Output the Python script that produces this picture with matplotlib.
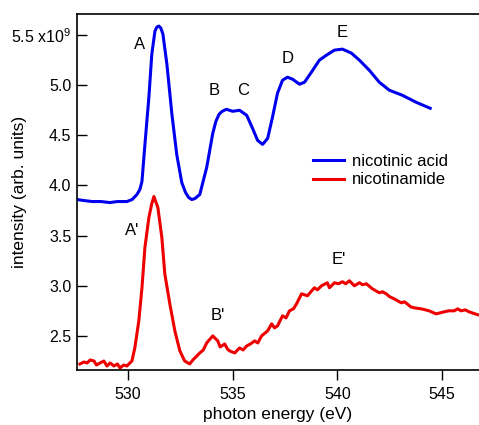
import matplotlib
matplotlib.use('Agg')
import matplotlib.pyplot as plt
from matplotlib.ticker import FixedLocator, FuncFormatter

plt.rcParams['font.family'] = ['Liberation Sans', 'DejaVu Sans']
plt.rcParams['mathtext.fontset'] = 'custom'
plt.rcParams['mathtext.rm'] = 'Liberation Sans'

# O K-edge spectra, intensity in units of 1e9
acid_energy = [527.57, 527.9, 528.3, 528.7, 529.14, 529.5, 529.95, 530.2, 530.43, 530.57,
               530.67, 530.8, 531.0, 531.14, 531.29, 531.38, 531.48, 531.57, 531.67, 531.86,
               532.1, 532.33, 532.57, 532.75, 532.9, 533.05, 533.2, 533.43, 533.76, 534.05,
               534.2, 534.35, 534.5, 534.7, 535.0, 535.33, 535.67, 535.95, 536.19, 536.43,
               536.67, 536.9, 537.14, 537.38, 537.62, 537.86, 538.19, 538.43, 538.76, 539.14,
               539.48, 539.86, 540.24, 540.67, 541.05, 541.52, 542.0, 542.48, 543.1, 543.76,
               544.43]
acid_signal = [3.86, 3.85, 3.84, 3.84, 3.83, 3.84, 3.84, 3.86, 3.91, 3.96,
               4.04, 4.38, 4.88, 5.31, 5.54, 5.58, 5.59, 5.57, 5.51, 5.21,
               4.71, 4.31, 4.03, 3.93, 3.88, 3.86, 3.87, 3.91, 4.18, 4.52,
               4.64, 4.71, 4.74, 4.76, 4.74, 4.75, 4.70, 4.57, 4.45, 4.41,
               4.47, 4.68, 4.92, 5.05, 5.08, 5.06, 5.01, 5.03, 5.13, 5.25,
               5.30, 5.35, 5.36, 5.32, 5.25, 5.15, 5.03, 4.95, 4.90, 4.83,
               4.77]

amide_energy = [527.71, 527.9, 528.05, 528.2, 528.38, 528.5, 528.67, 528.85, 529.0, 529.15,
                529.33, 529.5, 529.62, 529.8, 529.95, 530.19, 530.33, 530.52, 530.67, 530.81,
                531.0, 531.14, 531.24, 531.43, 531.62, 531.76, 532.0, 532.24, 532.48, 532.71,
                532.95, 533.1, 533.29, 533.43, 533.6, 533.76, 534.05, 534.29, 534.4, 534.48,
                534.62, 534.75, 534.86, 535.1, 535.33, 535.5, 535.67, 535.85, 536.05, 536.2,
                536.38, 536.67, 536.86, 537.0, 537.14, 537.38, 537.55, 537.71, 537.9, 538.05,
                538.29, 538.57, 538.9, 539.05, 539.24, 539.52, 539.62, 539.86, 540.05, 540.24,
                540.4, 540.57, 540.81, 541.05, 541.2, 541.38, 541.67, 542.0, 542.15, 542.33,
                542.5, 542.71, 543.05, 543.2, 543.33, 543.5, 543.67, 544.0, 544.2, 544.38,
                544.71, 545.1, 545.3, 545.57, 545.75, 545.9, 546.1, 546.29, 546.71, 546.8]
amide_signal = [2.22, 2.24, 2.23, 2.26, 2.25, 2.21, 2.23, 2.25, 2.20, 2.23,
                2.20, 2.22, 2.18, 2.21, 2.20, 2.25, 2.38, 2.65, 2.98, 3.38,
                3.68, 3.82, 3.89, 3.78, 3.48, 3.12, 2.82, 2.55, 2.35, 2.25,
                2.22, 2.26, 2.30, 2.33, 2.36, 2.43, 2.50, 2.45, 2.39, 2.40,
                2.42, 2.37, 2.35, 2.33, 2.38, 2.36, 2.40, 2.42, 2.45, 2.43,
                2.50, 2.55, 2.62, 2.58, 2.60, 2.70, 2.68, 2.75, 2.77, 2.82,
                2.92, 2.90, 2.98, 2.96, 3.00, 3.03, 2.98, 3.03, 3.02, 3.04,
                3.02, 3.05, 3.00, 3.03, 3.01, 3.02, 2.97, 2.93, 2.94, 2.92,
                2.89, 2.87, 2.83, 2.84, 2.82, 2.79, 2.78, 2.77, 2.76, 2.75,
                2.72, 2.74, 2.75, 2.75, 2.77, 2.75, 2.76, 2.74, 2.71, 2.71]

acid_peaks = ['A', 'B', 'C', 'D', 'E']
acid_peak_x = [530.57, 534.14, 535.52, 537.62, 540.24]
acid_peak_y = [5.41, 4.95, 4.95, 5.27, 5.53]
amide_peaks = ["A'", "B'", "E'"]
amide_peak_x = [530.19, 534.29, 540.05]
amide_peak_y = [3.55, 2.70, 3.26]

y_ticks = [2.5, 3.0, 3.5, 4.0, 4.5, 5.0, 5.5]
x_ticks = [530, 535, 540, 545]

fig = plt.figure(figsize=(4.79, 4.25), dpi=100)
ax = fig.add_axes([0.1608, 0.1294, 0.8392, 0.8376])

ax.plot(acid_energy, acid_signal, color='#0000ee', lw=2.2, label='nicotinic acid')
ax.plot(amide_energy, amide_signal, color='#ee0000', lw=2.2, label='nicotinamide')

for name, px, py in zip(acid_peaks, acid_peak_x, acid_peak_y):
    ax.text(px, py, name, fontsize=12, ha='center', va='center')
for name, px, py in zip(amide_peaks, amide_peak_x, amide_peak_y):
    ax.text(px, py, name, fontsize=12, ha='center', va='center')

ax.set_xlim(527.57, 546.76)
ax.set_ylim(2.16, 5.71)

ax.xaxis.set_major_locator(FixedLocator(x_ticks))
ax.yaxis.set_major_locator(FixedLocator(y_ticks))

def ylab(v, pos):
    if abs(v - 5.5) < 1e-6:
        return r'5.5 x10$^{9}$'
    return '%.1f' % v

ax.yaxis.set_major_formatter(FuncFormatter(ylab))
ax.tick_params(axis='y', direction='in', length=7.5, width=1.0, labelsize=11.5, pad=4)
ax.tick_params(axis='x', direction='out', length=7.5, width=1.0, labelsize=11.5, pad=5)

ax.spines['right'].set_visible(False)
for side in ['left', 'bottom', 'top']:
    ax.spines[side].set_linewidth(1.2)

ax.set_xlabel('photon energy (eV)', fontsize=12.5, labelpad=3)
ax.set_ylabel('intensity (arb. units)', fontsize=12.5)
ax.yaxis.set_label_coords(-0.125, 0.5)

leg = ax.legend(loc='upper left', bbox_to_anchor=(313 / 479, 1 - 154 / 425),
                bbox_transform=fig.transFigure, frameon=False, fontsize=12,
                handlelength=1.85, handletextpad=0.5, labelspacing=0.2, borderpad=0,
                borderaxespad=0)

fig.savefig('out.png', dpi=100)
